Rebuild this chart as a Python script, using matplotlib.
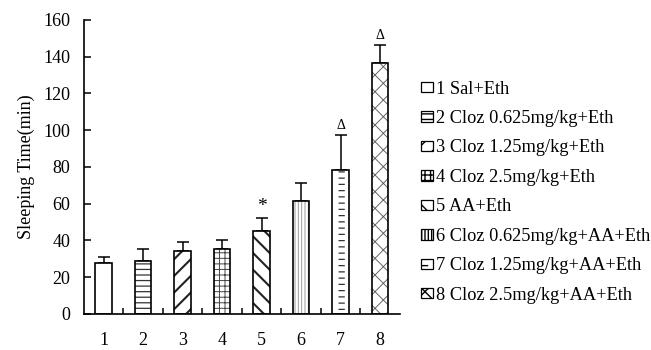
import numpy as np
import matplotlib
matplotlib.use("Agg")
import matplotlib.pyplot as plt
from matplotlib import hatch as mhatch
from matplotlib.path import Path
from matplotlib.patches import Patch


class ShortDashHatch(mhatch.HatchPatternBase):
    """Rows of short horizontal dashes, selected with the '_' hatch character."""

    def __init__(self, hatch, density):
        n = hatch.count('_')
        self.rows = 16 * n
        self.cols = 6 * n
        self.num_vertices = 2 * self.rows * self.cols if n else 0

    def set_vertices_and_codes(self, vertices, codes):
        ys = (np.arange(self.rows) + 0.5) / self.rows
        xs = (np.arange(self.cols) + 0.5) / self.cols
        half = 0.025
        k = 0
        for y in ys:
            for x in xs:
                vertices[k] = (x - half, y)
                vertices[k + 1] = (x + half, y)
                codes[k] = Path.MOVETO
                codes[k + 1] = Path.LINETO
                k += 2


mhatch._hatch_types.append(ShortDashHatch)

plt.rcParams['font.family'] = ['Liberation Serif', 'DejaVu Serif']

# Group means and upper SD of ethanol-induced sleeping time
groups = [1, 2, 3, 4, 5, 6, 7, 8]
sleep_mean = [27.7, 28.8, 34.3, 35.1, 45.3, 61.4, 78.1, 136.8]
sleep_sd = [3.1, 6.5, 4.8, 4.9, 6.9, 10.0, 19.2, 9.6]
marks = ['', '', '', '', '*', '', 'Δ', 'Δ']
legend_labels = [
    '1 Sal+Eth',
    '2 Cloz 0.625mg/kg+Eth',
    '3 Cloz 1.25mg/kg+Eth',
    '4 Cloz 2.5mg/kg+Eth',
    '5 AA+Eth',
    '6 Cloz 0.625mg/kg+AA+Eth',
    '7 Cloz 1.25mg/kg+AA+Eth',
    '8 Cloz 2.5mg/kg+AA+Eth',
]
y_ticks = [0, 20, 40, 60, 80, 100, 120, 140, 160]

# Fill style of each group: hatch pattern, hatch colour, hatch line width
hatches = ['', '---', '//', '+++', '\\\\', '|||||', '_', 'xx']
hatch_colors = ['black', '#333333', '#222222', '#444444', '#222222',
                '#9a9a9a', '#333333', '#666666']
hatch_widths = [1.0, 0.9, 1.5, 0.7, 1.5, 0.7, 0.9, 0.7]

fig = plt.figure(figsize=(6.51, 3.5), dpi=100)
ax = fig.add_axes([0.129, 0.103, 0.485, 0.84])

width = 0.42
handles = []
for g, m, h, hc, hw in zip(groups, sleep_mean, hatches, hatch_colors,
                           hatch_widths):
    with plt.rc_context({'hatch.linewidth': hw}):
        ax.bar(g, m, width=width, color='white', edgecolor=hc, hatch=h,
               linewidth=0, zorder=2)
    with plt.rc_context({'hatch.linewidth': min(hw, 0.8)}):
        handles.append(Patch(facecolor='white', edgecolor='black', hatch=h,
                             linewidth=0.9))
ax.bar(groups, sleep_mean, width=width, fill=False, edgecolor='black',
       linewidth=1.2, zorder=3)
ax.errorbar(groups, sleep_mean,
            yerr=[np.zeros(len(sleep_sd)), sleep_sd],
            fmt='none', ecolor='black', elinewidth=1.1, capsize=4,
            capthick=1.1, zorder=1)

for g, m, s, t in zip(groups, sleep_mean, sleep_sd, marks):
    if t:
        ax.annotate(t, (g, m + s), xytext=(0, 2), textcoords='offset points',
                    ha='center', va='bottom',
                    fontsize=14 if t == '*' else 10)

ax.set_xlim(0.5, 8.5)
ax.set_ylim(0, 160)
ax.set_yticks(y_ticks)
ax.set_xticks(groups)
ax.set_xticks(np.arange(1.5, 8.5, 1.0), minor=True)
ax.tick_params(axis='x', which='major', length=0, pad=13, labelsize=13)
ax.tick_params(axis='x', which='minor', direction='in', length=4, width=1.1)
ax.tick_params(axis='y', direction='in', length=5, width=1.1, pad=10,
               labelsize=13)
for side in ('top', 'right'):
    ax.spines[side].set_visible(False)
for side in ('left', 'bottom'):
    ax.spines[side].set_linewidth(1.2)

ax.set_ylabel('Sleeping Time(min)', fontsize=13, labelpad=6)

fig.legend(handles, legend_labels, loc='upper left',
           bbox_to_anchor=(0.647, 0.77), frameon=False, fontsize=13.2,
           handlelength=0.62, handleheight=0.5, handletextpad=0.18,
           labelspacing=0.68, borderaxespad=0, borderpad=0)

fig.savefig('out.png', dpi=100)
